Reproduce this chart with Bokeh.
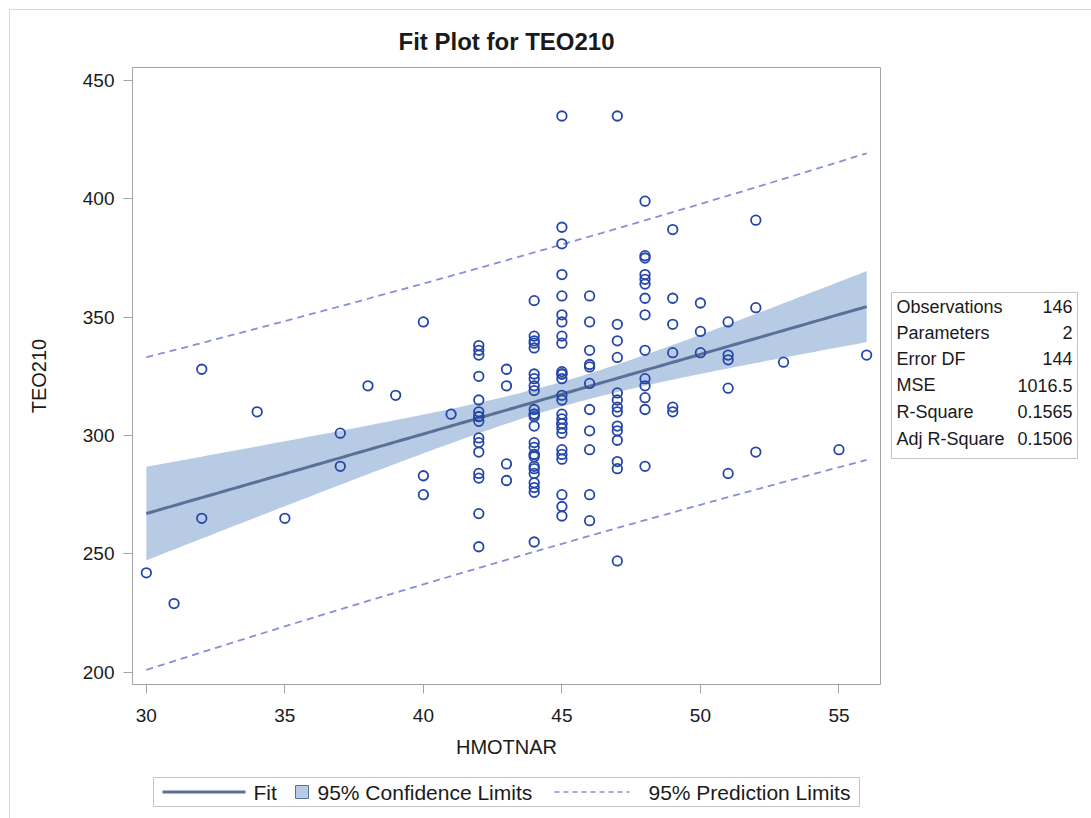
import numpy as np
from bokeh.plotting import figure
from bokeh.layouts import column, row
from bokeh.models import FixedTicker, InlineStyleSheet
from bokeh.core.properties import value
from bokeh.embed import file_html
from bokeh.resources import INLINE

# ---------------- data ----------------
x_cols = [30, 31, 32, 34, 35, 37, 38, 39, 40, 41, 42, 43, 44, 45, 46, 47, 48, 49, 50, 51, 52, 53, 55, 56]
y_cols = [
    [242],
    [229],
    [328, 265],
    [310],
    [265],
    [301, 287],
    [321],
    [317],
    [348, 283, 275],
    [309],
    [338, 336, 334, 325, 315, 310, 308, 306, 299, 297, 293, 284, 282, 267, 253, 308],
    [328, 321, 288, 281],
    [357, 342, 340, 339, 337, 326, 324, 321, 319, 311, 309, 308, 304, 297, 295, 292, 291, 287,
     286, 284, 280, 278, 276, 255, 309, 292],
    [435, 388, 381, 368, 359, 351, 348, 342, 339, 327, 326, 324, 317, 315, 309, 307, 305, 303,
     301, 294, 292, 290, 275, 270, 266, 305, 326],
    [359, 348, 336, 330, 329, 322, 311, 302, 294, 275, 264],
    [435, 347, 340, 333, 318, 315, 312, 310, 304, 302, 298, 289, 286, 247],
    [399, 376, 375, 368, 366, 364, 358, 351, 336, 324, 321, 316, 311, 287],
    [387, 358, 347, 335, 312, 310],
    [356, 344, 335],
    [348, 334, 332, 320, 284],
    [391, 354, 293],
    [331],
    [294],
    [334],
]
x_ticks = [30, 35, 40, 45, 50, 55]
y_ticks = [200, 250, 300, 350, 400, 450]
stat_names = ["Observations", "Parameters", "Error DF", "MSE", "R-Square", "Adj R-Square"]
stat_values = ["146", "2", "144", "1016.5", "0.1565", "0.1506"]
legend_labels = ["Fit", "95% Confidence Limits", "95% Prediction Limits"]
title_text = "Fit Plot for TEO210"
x_label = "HMOTNAR"
y_label = "TEO210"
mse = 1016.5
t_crit = 1.976575  # t(0.975, 144)

# ---------------- fit ----------------
hx = np.array([xv for xv, ys in zip(x_cols, y_cols) for _ in ys], dtype=float)
ty = np.array([yv for ys in y_cols for yv in ys], dtype=float)
n = len(hx)
xbar = hx.mean()
sxx = ((hx - xbar) ** 2).sum()
slope = ((hx - xbar) * (ty - ty.mean())).sum() / sxx
icpt = ty.mean() - slope * xbar
gx = np.linspace(min(x_cols), max(x_cols), 131)
fit = icpt + slope * gx
se_m = np.sqrt(mse * (1.0 / n + (gx - xbar) ** 2 / sxx))
se_p = np.sqrt(mse * (1.0 + 1.0 / n + (gx - xbar) ** 2 / sxx))
lcl, ucl = fit - t_crit * se_m, fit + t_crit * se_m
lpl, upl = fit - t_crit * se_p, fit + t_crit * se_p

# ---------------- styling ----------------
FONT = "Liberation Sans"
TXT = "#1a1a1a"
GRAY = "#a3a3a3"
BOXC = "#c4c4c4"
MARK = "#2446a8"
FITC = "#5b7097"
BAND = "#b7cbe5"
PRED = "#8790d4"

W, H = 1091, 818
TITLE_H = 66
MAIN_W, MAIN_H = 881, 704
LEG_H = H - TITLE_H - MAIN_H          # 48
STAT_W = W - MAIN_W                   # 210
FRAME_L, FRAME_R = 132, 880

# ---------------- main plot ----------------
p = figure(width=MAIN_W, height=MAIN_H, output_backend="svg", toolbar_location=None,
           x_range=(29.5, 56.5), y_range=(194.8, 455.5),
           min_border_left=FRAME_L, min_border_right=MAIN_W - FRAME_R,
           min_border_top=1, min_border_bottom=86)
p.background_fill_color = "white"
p.border_fill_color = "white"
p.outline_line_color = GRAY
p.outline_line_width = 1
p.grid.visible = False

for ax, tk in ((p.xaxis, x_ticks), (p.yaxis, y_ticks)):
    ax.ticker = FixedTicker(ticks=tk)
    ax.axis_line_color = None
    ax.major_tick_line_color = GRAY
    ax.major_tick_in = 0
    ax.major_tick_out = 9
    ax.minor_tick_line_color = None
    ax.major_label_text_font = FONT
    ax.major_label_text_font_size = "19px"
    ax.major_label_text_color = TXT
    ax.axis_label_text_font = FONT
    ax.axis_label_text_font_size = "20px"
    ax.axis_label_text_font_style = "normal"
    ax.axis_label_text_color = TXT
p.xaxis.axis_label = x_label
p.yaxis.axis_label = y_label
p.xaxis.major_label_standoff = 15
p.yaxis.major_label_standoff = 9
p.xaxis.axis_label_standoff = 11
p.yaxis.axis_label_standoff = 30

p.varea(x=gx, y1=lcl, y2=ucl, fill_color=BAND, fill_alpha=1.0)
p.line(gx, upl, line_color=PRED, line_width=1.8, line_dash="7 5")
p.line(gx, lpl, line_color=PRED, line_width=1.8, line_dash="7 5")
p.line(gx, fit, line_color=FITC, line_width=3)
p.scatter(hx, ty, marker="circle", size=9.5, fill_color=None, line_color=MARK, line_width=1.8)


# ---------------- helper panels (page-pixel coordinates, y downward) ----------------
def panel(w, h, x0=0, y0=0, bl=0, br=0):
    f = figure(width=w, height=h, output_backend="svg", toolbar_location=None,
               x_range=(x0 + bl, x0 + w - br), y_range=(y0 + h, y0),
               x_axis_type=None, y_axis_type=None,
               min_border=0, min_border_left=bl, min_border_right=br)
    f.outline_line_color = None
    f.grid.visible = False
    f.background_fill_color = "white"
    f.border_fill_color = "white"
    return f


def txt(f, xs, ys, texts, size, align="left", style="normal"):
    f.text(x=xs, y=ys, text=texts, text_font=value(FONT), text_font_size=value(size),
           text_font_style=style, text_color=TXT, text_align=align, text_baseline="middle")


# title panel: page y 0..66
tp = panel(W, TITLE_H)
txt(tp, [506], [41], [title_text], "24px", align="center", style="bold")

# stats table panel: page x 881..1091, y 66..818
sp = panel(STAT_W, MAIN_H + LEG_H, x0=MAIN_W, y0=TITLE_H)
row_y = [306, 332, 358, 384.5, 411, 438]
sp.quad(left=[891], right=[1077], top=[292], bottom=[458],
        fill_color=None, line_color=BOXC, line_width=1)
txt(sp, [896] * len(stat_names), row_y, stat_names, "18px")
txt(sp, [1072] * len(stat_values), row_y, stat_values, "18px", align="right")

# legend panel: page x 0..881, y 770..818 (frame aligned with the main frame)
ly0 = TITLE_H + MAIN_H
lp = panel(MAIN_W, LEG_H, x0=0, y0=ly0, bl=FRAME_L, br=MAIN_W - FRAME_R)
ly = 791.5
lp.quad(left=[153], right=[859], top=[777], bottom=[806],
        fill_color=None, line_color=BOXC, line_width=1)
lp.line([162, 245], [ly, ly], line_color=FITC, line_width=3)
lp.quad(left=[295], right=[308], top=[785], bottom=[798],
        fill_color=BAND, line_color=FITC, line_width=1)
lp.line([554, 629], [ly, ly], line_color=PRED, line_width=1.5, line_dash="5 4")
txt(lp, [253, 317, 648], [ly] * 3, legend_labels, "21px")

border_css = InlineStyleSheet(css=""":host::after { content: ""; position: absolute; left: 9px; top: 9px;
 right: 0px; bottom: 0px; border-top: 1px solid #d8d8d8; border-left: 1px solid #d8d8d8;
 pointer-events: none; }""")

layout = column(tp, row(column(p, lp), sp), stylesheets=[border_css])

open("out.html", "w").write(file_html(layout, INLINE))
